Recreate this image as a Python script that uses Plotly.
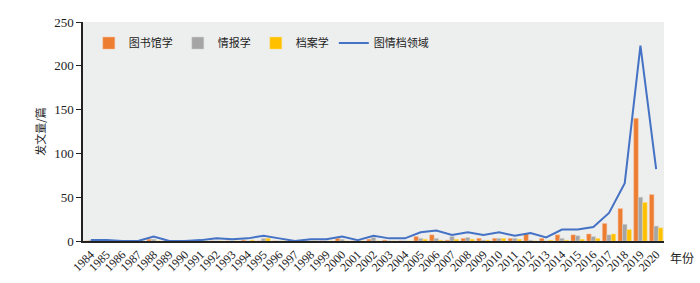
import plotly.graph_objects as go

years = [str(y) for y in range(1984, 2021)]
library = [0, 0, 0, 0, 2, 0, 0, 0, 0, 0, 1, 0, 0, 0, 0, 0, 3, 0, 2, 1, 0, 5, 7, 1, 3, 3, 3, 3, 8, 3, 7, 7, 8, 20, 37, 140, 53]
info = [1, 0, 0, 0, 2, 0, 1, 0, 0, 0, 0, 3, 0, 0, 0, 0, 2, 0, 4, 0, 0, 3, 3, 5, 4, 1, 3, 3, 1, 0, 3, 6, 5, 7, 19, 50, 17]
archive = [0, 0, 0, 0, 0, 0, 0, 0, 0, 0, 1, 3, 0, 0, 0, 0, 0, 0, 0, 0, 0, 2, 1, 2, 2, 1, 3, 2, 0, 1, 1, 2, 3, 8, 13, 44, 15]
total = [1, 1, 0, 0, 5, 0, 0, 1, 3, 2, 3, 6, 3, 0, 2, 2, 5, 1, 6, 3, 3, 10, 12, 7, 10, 7, 10, 6, 9, 4, 13, 13, 16, 32, 66, 223, 82]

fig = go.Figure()
fig.add_bar(x=years, y=library, name="图书馆学", marker=dict(color="#ED7D31", line=dict(color="#F6BE98", width=0.5)))
fig.add_bar(x=years, y=info, name="情报学", marker=dict(color="#A5A5A5", line=dict(color="#D2D2D2", width=0.5)))
fig.add_bar(x=years, y=archive, name="档案学", marker=dict(color="#FFC000", line=dict(color="#FFE080", width=0.5)))
fig.add_scatter(x=years, y=total, name="图情档领域", mode="lines", line=dict(color="#4472C4", width=2))

fig.update_layout(
    width=700, height=283,
    margin=dict(l=83, r=36, t=22, b=42),
    paper_bgcolor="white", plot_bgcolor="#EDEEEE",
    barmode="group", bargap=0.15, bargroupgap=0,
    font=dict(family="Liberation Serif, Noto Sans CJK SC", size=11, color="#222"),
    legend=dict(orientation="h", x=0.01, y=0.97, xanchor="left", yanchor="top",
                bgcolor="rgba(0,0,0,0)", font=dict(family="Noto Sans CJK SC", size=11),
                itemwidth=30, traceorder="normal"),
    showlegend=True,
)
fig.update_xaxes(type="category", showline=True, linecolor="#222", linewidth=1.5,
                 tickangle=-45, ticks="", tickfont=dict(size=12, family="Liberation Serif"),
                 showgrid=False, automargin=False)
fig.update_yaxes(range=[0, 250], dtick=50, showline=True, linecolor="#222", linewidth=1.5,
                 ticks="outside", ticklen=5, tickcolor="#222", showgrid=False, zeroline=False,
                 tickfont=dict(size=13, family="Liberation Serif"), automargin=False,
                 title=dict(text="发文量/篇", font=dict(family="Noto Sans CJK SC", size=11), standoff=6))
fig.add_annotation(text="年份", xref="paper", yref="paper", x=1.0, y=0, xanchor="left", yanchor="top",
                   xshift=4, yshift=-6, showarrow=False, font=dict(family="Noto Sans CJK SC", size=12))

fig.write_html("out.html")
